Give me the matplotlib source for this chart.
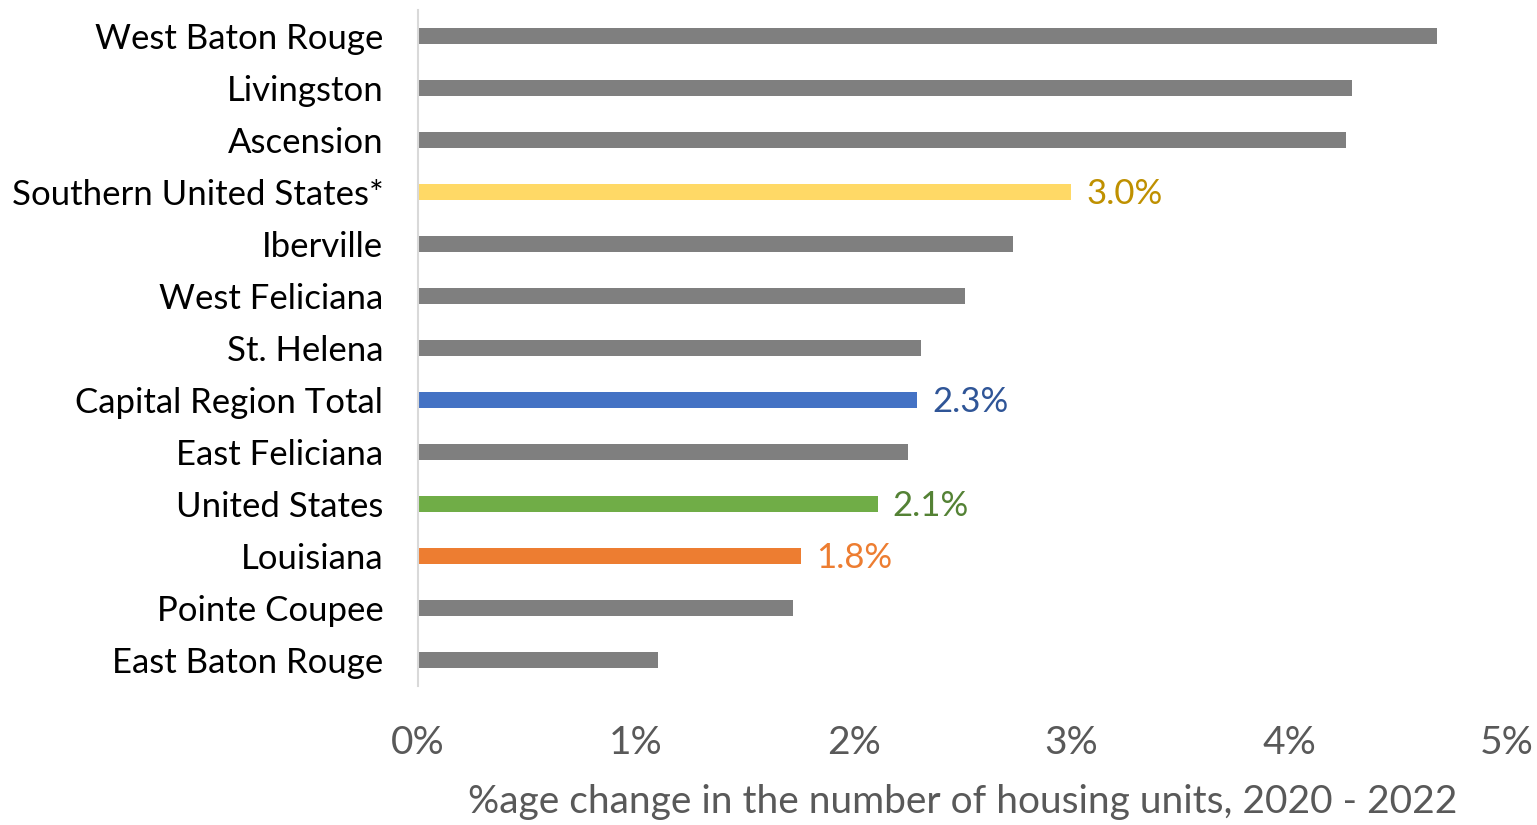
import matplotlib
matplotlib.use("Agg")
import matplotlib.pyplot as plt

categories = ["West Baton Rouge", "Livingston", "Ascension", "Southern United States*",
              "Iberville", "West Feliciana", "St. Helena", "Capital Region Total",
              "East Feliciana", "United States", "Louisiana", "Pointe Coupee",
              "East Baton Rouge"]
values = [4.68, 4.29, 4.26, 3.0, 2.73, 2.51, 2.31, 2.29, 2.25, 2.11, 1.76, 1.72, 1.10]
bar_colors = ["#7F7F7F", "#7F7F7F", "#7F7F7F", "#FFD966", "#7F7F7F", "#7F7F7F",
              "#7F7F7F", "#4472C4", "#7F7F7F", "#70AD47", "#ED7D31", "#7F7F7F", "#7F7F7F"]
labels = {"Southern United States*": ("3.0%", "#BF9000"),
          "Capital Region Total": ("2.3%", "#2F5597"),
          "United States": ("2.1%", "#548235"),
          "Louisiana": ("1.8%", "#ED7D31")}
xticks = [0, 1, 2, 3, 4, 5]
xtick_labels = ["0%", "1%", "2%", "3%", "4%", "5%"]
xlabel = "%age change in the number of housing units, 2020 - 2022"

plt.rcParams['font.family'] = ['Lato', 'DejaVu Sans']

fig = plt.figure(figsize=(15.37, 8.25), dpi=100)
ax = fig.add_axes([418/1537, 1-686/825, (1507-418)/1537, 676/825])

y = list(range(len(categories)))
ax.barh(y, values, height=0.31, color=bar_colors)
for i, (c, v) in enumerate(zip(categories, values)):
    if c in labels:
        t, col = labels[c]
        ax.text(v + 0.07, i + 0.04, t, color=col, fontsize=25, va='center', ha='left')

ax.set_ylim(len(categories) - 0.5, -0.5)
ax.set_xlim(0, 5)
ax.set_yticks(y)
ax.set_yticklabels(categories, fontsize=25, color='black')
ax.set_xticks(xticks)
ax.set_xticklabels(xtick_labels, fontsize=28, color='#595959')
ax.tick_params(axis='y', length=0, pad=25)
ax.tick_params(axis='x', length=0, pad=28)
ax.set_xlabel(xlabel, fontsize=28, color='#595959', labelpad=17)
for s in ['top', 'right', 'bottom']:
    ax.spines[s].set_visible(False)
ax.spines['left'].set_color('#D9D9D9')
ax.spines['left'].set_linewidth(1.5)

fig.savefig("out.png", dpi=100)
